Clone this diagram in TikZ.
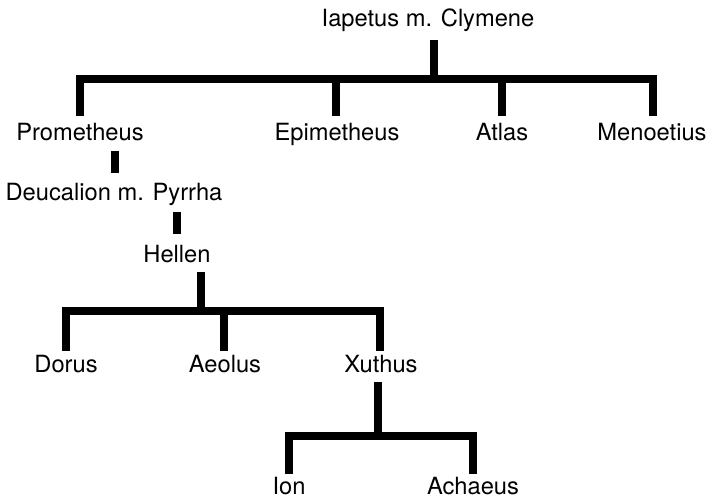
\documentclass[tikz,border=0pt]{standalone}
\usepackage{fontspec}
\setmainfont{TeX Gyre Heros}
\begin{document}
\begin{tikzpicture}[x=1pt,y=-1pt,
  person/.style={font=\fontsize{23.7}{26}\selectfont, inner sep=0pt, anchor=base},
  tree/.style={line width=8pt, line cap=butt, line join=miter}]
\useasboundingbox (0,0) rectangle (710,498);
% people
\node[person] (iap) at (428,26) {Iapetus m. Clymene};
\node[person] (pro) at (80,140) {Prometheus};
\node[person] (epi) at (337,140) {Epimetheus};
\node[person] (atl) at (502,140) {Atlas};
\node[person] (men) at (652,140) {Menoetius};
\node[person] (deu) at (114,200) {Deucalion m. Pyrrha};
\node[person] (hel) at (177,262) {Hellen};
\node[person] (dor) at (66,372) {Dorus};
\node[person] (aeo) at (225,372) {Aeolus};
\node[person] (xut) at (381,372) {Xuthus};
\node[person] (ion) at (289,494) {Ion};
\node[person] (ach) at (473,494) {Achaeus};
% junctions
\coordinate (j1) at (434,78.5);
\coordinate (j2) at (201,311);
\coordinate (j3) at (378,436);
% Iapetus family
\draw[tree] (434,40) -- (j1);
\draw[tree] (80,116) |- (653,78.5) -- (653,116);
\draw[tree] (336,116) -- (336,78.5);
\draw[tree] (502,116) -- (502,78.5);
% single descents
\draw[tree] (115,151) -- (115,173);
\draw[tree] (176.5,212) -- (176.5,234);
% Hellen family
\draw[tree] (201,272) -- (j2);
\draw[tree] (66,351) |- (380,311) -- (380,351);
\draw[tree] (224,351) -- (224,311);
% Xuthus family
\draw[tree] (378,382) -- (j3);
\draw[tree] (289,474) |- (473,436) -- (473,474);
\end{tikzpicture}
\end{document}
